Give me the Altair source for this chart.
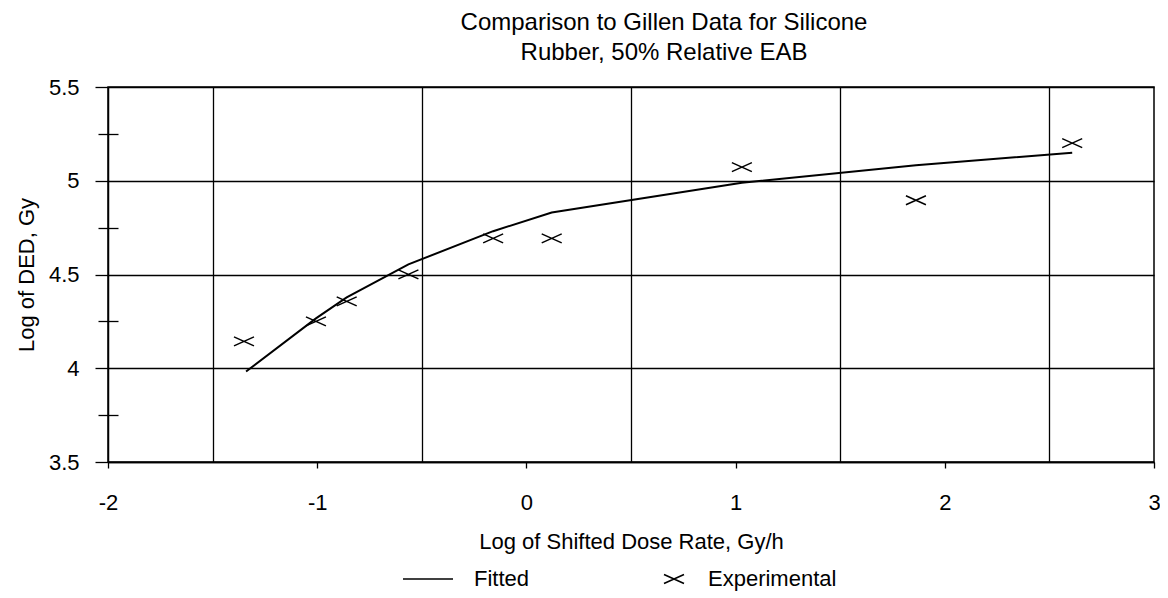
import altair as alt
import pandas as pd

# Experimental points
exp_x = [-1.35, -1.006, -0.859, -0.564, -0.159, 0.121, 1.030, 1.862, 2.609]
exp_y = [4.143, 4.25, 4.357, 4.501, 4.693, 4.693, 5.073, 4.896, 5.201]

# Fitted curve
fit_x = [-1.34, -1.006, -0.859, -0.564, -0.159, 0.121, 1.030, 1.862, 2.609]
fit_y = [3.983, 4.266, 4.378, 4.554, 4.731, 4.831, 4.989, 5.083, 5.149]

x_ticks = [-2, -1, 0, 1, 2, 3]
x_grid = [-1.5, -0.5, 0.5, 1.5, 2.5]
y_ticks = [3.5, 4, 4.5, 5, 5.5]
y_minor = [3.75, 4.25, 4.75, 5.25]

series = ["Fitted", "Experimental"]
FONT = "Liberation Sans"

fit_df = pd.DataFrame({"x": fit_x, "y": fit_y, "series": "Fitted"})
exp_df = pd.DataFrame({"x": exp_x, "y": exp_y, "series": "Experimental"})

xscale = alt.Scale(domain=[-2, 3], nice=False, zero=False)
yscale = alt.Scale(domain=[3.5, 5.5], nice=False, zero=False)

XPATH = "M-1,-0.45L1,0.45M-1,0.45L1,-0.45"
LPATH = "M-3.7,0L1.3,0"

line = alt.Chart(fit_df).mark_line(color="black", strokeWidth=2).encode(
    x=alt.X("x:Q", scale=xscale,
            axis=alt.Axis(values=x_ticks, grid=False, tickSize=6, tickColor="black",
                          tickWidth=1.3, domainColor="black", domainWidth=1.5,
                          labelExpr="'' + datum.value",
                          labelFont=FONT, labelFontSize=22, labelColor="black",
                          labelPadding=24, labelFlush=False,
                          title="Log of Shifted Dose Rate, Gy/h", titleFont=FONT,
                          titleFontSize=22, titleFontWeight="normal", titleColor="black",
                          titlePadding=18)),
    y=alt.Y("y:Q", scale=yscale,
            axis=alt.Axis(values=y_ticks, grid=True, gridColor="black", gridWidth=1.3,
                          gridOpacity=1, tickSize=13, tickColor="black", tickWidth=1.3,
                          domainColor="black", domainWidth=1.5,
                          labelExpr="'' + datum.value",
                          labelFont=FONT, labelFontSize=22, labelColor="black",
                          labelPadding=16, labelFlush=False,
                          title="Log of DED, Gy", titleFont=FONT, titleFontSize=22,
                          titleFontWeight="normal", titleColor="black", titlePadding=10)),
)

pts = alt.Chart(exp_df).mark_point(size=400, strokeWidth=1.5, color="black",
                                   filled=False, opacity=1).encode(
    x=alt.X("x:Q", scale=xscale,
            axis=alt.Axis(values=x_grid, orient="bottom", grid=True, gridColor="black",
                          gridWidth=1.3, gridOpacity=1, ticks=False, labels=False,
                          domain=False, title=None)),
    y=alt.Y("y:Q", scale=yscale,
            axis=alt.Axis(values=y_minor, orient="left", offset=-10, grid=False,
                          tickSize=20, tickColor="black", tickWidth=1.3, labels=False,
                          domain=False, title=None)),
    shape=alt.Shape("series:N",
                    scale=alt.Scale(domain=series, range=[LPATH, XPATH]),
                    legend=alt.Legend(title=None, orient="none", direction="horizontal",
                                      legendX=321, legendY=481, symbolSize=400,
                                      symbolStrokeColor="black", symbolStrokeWidth=1.6,
                                      symbolFillColor="transparent", labelOffset=23,
                                      columnPadding=130, labelFont=FONT, labelFontSize=22,
                                      labelColor="black")),
)

chart = alt.layer(line, pts).resolve_axis(x="independent", y="independent").properties(
    width=1046,
    height=375,
    autosize=alt.AutoSizeParams(type="none"),
    padding={"left": 100, "top": 79, "right": 6, "bottom": 130},
    title=alt.Title(["Comparison to Gillen Data for Silicone", "Rubber, 50% Relative EAB"],
                    font=FONT, fontSize=24, fontWeight="normal", color="black",
                    anchor="middle", dx=33, lineHeight=30, offset=11),
).configure_view(stroke="black", strokeWidth=1.5)

chart.save("out.html", embed_options={"renderer": "svg", "actions": False})
